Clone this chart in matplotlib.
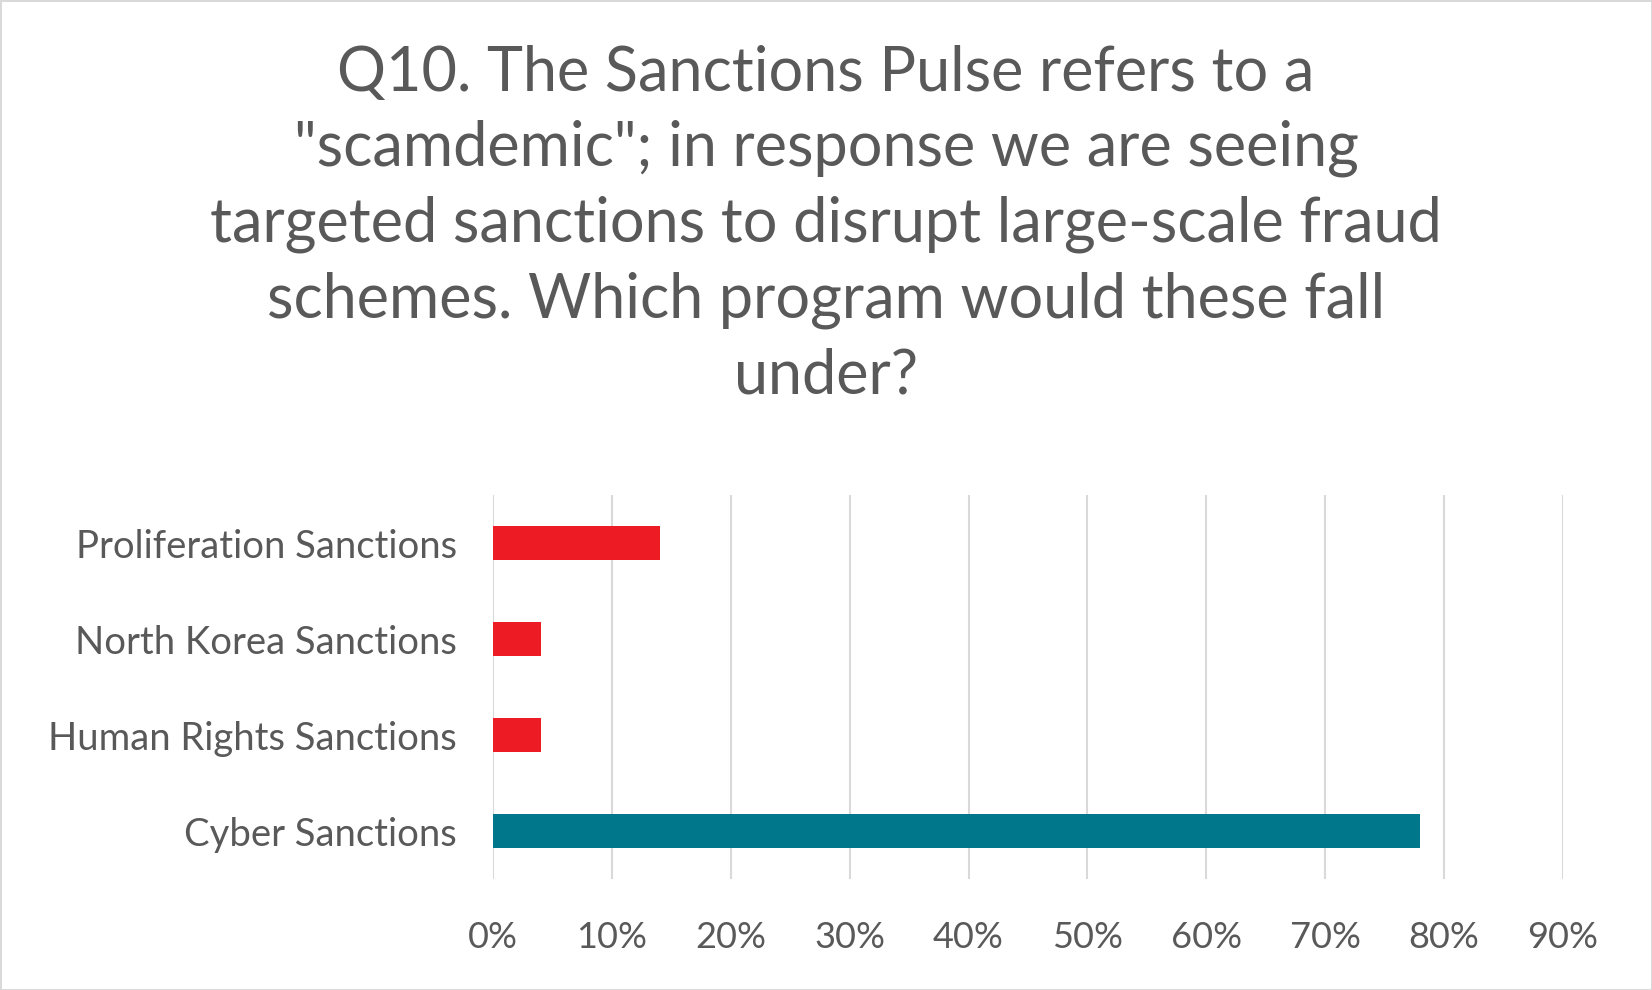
import matplotlib
matplotlib.use("Agg")
import matplotlib.pyplot as plt
from matplotlib.ticker import FuncFormatter

categories = ["Cyber Sanctions", "Human Rights Sanctions", "North Korea Sanctions", "Proliferation Sanctions"]
values = [0.78, 0.04, 0.04, 0.14]
colors = ["#00778B", "#ED1C24", "#ED1C24", "#ED1C24"]
title = 'Q10. The Sanctions Pulse refers to a\n"scamdemic"; in response we are seeing\ntargeted sanctions to disrupt large-scale fraud\nschemes. Which program would these fall\nunder?'

plt.rcParams['font.family'] = ['Lato', 'DejaVu Sans']
fig = plt.figure(figsize=(16.52, 9.9), dpi=100)
fig.patch.set_edgecolor("#D9D9D9"); fig.patch.set_linewidth(2)
ax = fig.add_axes([0.2985, 0.112, 0.6475, 0.388])
ax.barh(range(len(categories)), values, height=0.35, color=colors, zorder=3)
ax.set_yticks(range(len(categories)))
ax.set_yticklabels(categories, fontsize=27.5, color="#595959")
ax.set_xlim(0, 0.9)
ax.set_ylim(-0.5, 3.5)
ax.set_xticks([i/10 for i in range(10)])
ax.xaxis.set_major_formatter(FuncFormatter(lambda v, p: f"{v*100:.0f}%"))
ax.tick_params(axis='x', labelsize=26, colors="#595959", length=0, pad=30)
ax.tick_params(axis='y', length=0, pad=26)
ax.grid(axis='x', color="#D9D9D9", linewidth=1.5, zorder=0)
for s in ax.spines.values():
    s.set_visible(False)
fig.text(0.5, 0.955, title, ha='center', va='top', fontsize=44, color="#595959", linespacing=1.4)
fig.savefig("out.png", dpi=100)
